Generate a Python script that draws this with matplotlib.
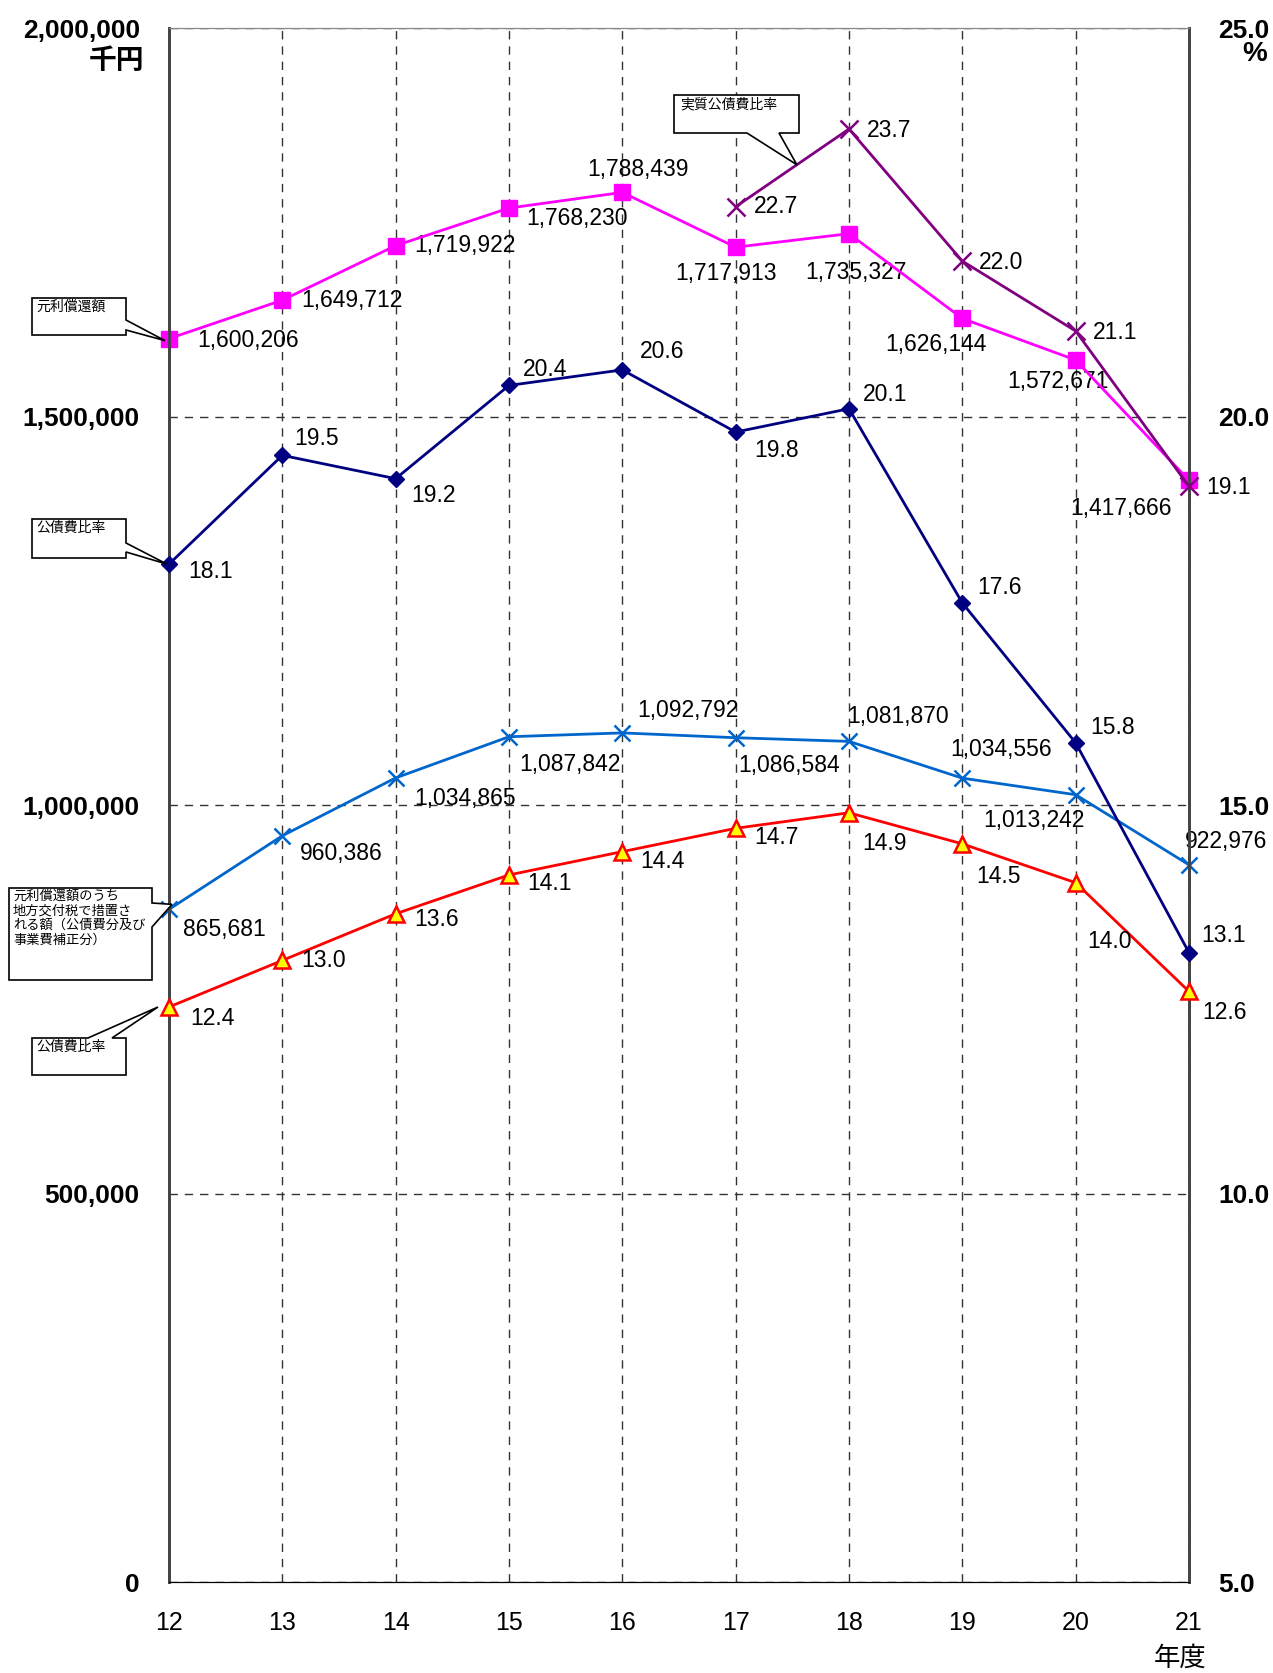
import matplotlib
matplotlib.use("Agg")
import matplotlib.pyplot as plt
from matplotlib.patches import Polygon
from matplotlib.ticker import FuncFormatter

plt.rcParams['font.family'] = ['Liberation Sans', 'Noto Sans CJK JP']

# data
years = [12, 13, 14, 15, 16, 17, 18, 19, 20, 21]
repay = [1600206, 1649712, 1719922, 1768230, 1788439, 1717913, 1735327, 1626144, 1572671, 1417666]
repay_covered = [865681, 960386, 1034865, 1087842, 1092792, 1086584, 1081870, 1034556, 1013242, 922976]
ratio = [18.1, 19.5, 19.2, 20.4, 20.6, 19.8, 20.1, 17.6, 15.8, 13.1]
ratio2 = [12.4, 13.0, 13.6, 14.1, 14.4, 14.7, 14.9, 14.5, 14.0, 12.6]
real_years = [17, 18, 19, 20, 21]
real_ratio = [22.7, 23.7, 22.0, 21.1, 19.1]

# label offsets in pixels (dx, dy, ha)
off_repay = [(28, -2, 'left'), (19, 0, 'left'), (19, 0, 'left'), (17, -10, 'left'), (16, 23, 'center'),
             (-10, -26, 'center'), (7, -39, 'center'), (-26, -26, 'center'), (-18, -21, 'center'), (-68, -28, 'center')]
off_ratio = [(19, -7, 'left'), (12, 17, 'left'), (16, -17, 'left'), (14, 16, 'left'), (18, 18, 'left'),
             (19, -18, 'left'), (14, 14, 'left'), (15, 15, 'left'), (15, 15, 'left'), (12, 17, 'left')]
off_cov = [(14, -20, 'left'), (18, -18, 'left'), (19, -21, 'left'), (10, -28, 'left'), (66, 22, 'center'),
           (53, -28, 'center'), (49, 25, 'center'), (39, 29, 'center'), (-42, -26, 'center'), (37, 23, 'center')]
off_ratio2 = [(21, -11, 'left'), (19, 0, 'left'), (19, -6, 'left'), (18, -9, 'left'), (18, -10, 'left'),
              (19, -9, 'left'), (13, -31, 'left'), (14, -33, 'left'), (12, -59, 'left'), (13, -21, 'left')]
off_real = [(18, 0, 'left'), (18, -1, 'left'), (17, -1, 'left'), (17, -1, 'left'), (17, -1, 'left')]

W, H = 1273, 1673
fig = plt.figure(figsize=(W / 100, H / 100), dpi=100)
ax = fig.add_axes([169 / W, (H - 1582) / H, (1189 - 169) / W, (1582 - 28) / H])
ax2 = ax.twinx()

ax.set_xlim(12, 21)
ax.set_ylim(0, 2000000)
ax2.set_ylim(5, 25)
ax.set_xticks(years)
ax.set_yticks([0, 500000, 1000000, 1500000, 2000000])
ax2.set_yticks([5, 10, 15, 20, 25])
ax.yaxis.set_major_formatter(FuncFormatter(lambda v, p: f"{int(v):,}"))
ax2.yaxis.set_major_formatter(FuncFormatter(lambda v, p: f"{v:.1f}"))
ax.tick_params(axis='y', length=0, pad=21, labelsize=19)
ax2.tick_params(axis='y', length=0, pad=21, labelsize=19)
ax.tick_params(axis='x', length=0, pad=21, labelsize=18)
for lab in ax.get_yticklabels() + ax2.get_yticklabels():
    lab.set_fontweight('bold')

ax.grid(True, linestyle=(0, (6, 5)), color='#333333', linewidth=1)
ax.set_axisbelow(True)
for sp in ['left', 'right']:
    ax.spines[sp].set_color('#444444')
    ax.spines[sp].set_linewidth(2)
    ax2.spines[sp].set_color('#444444')
    ax2.spines[sp].set_linewidth(2)
ax.spines['top'].set_color('#888888')
ax2.spines['top'].set_color('#888888')
ax.spines['bottom'].set_color('black')

lbl = dict(textcoords='offset pixels', va='center', fontsize=16.5)

ax.plot(years, repay_covered, color='#0066CC', lw=2, marker='x', ms=11, mew=1.8, clip_on=False, zorder=3)
for x, y, (dx, dy, ha) in zip(years, repay_covered, off_cov):
    ax.annotate(f"{y:,}", (x, y), xytext=(dx, dy), ha=ha, **lbl)

ax.plot(years, repay, color='#FF00FF', lw=2, marker='s', ms=11, clip_on=False, zorder=4)
for x, y, (dx, dy, ha) in zip(years, repay, off_repay):
    ax.annotate(f"{y:,}", (x, y), xytext=(dx, dy), ha=ha, **lbl)

ax2.plot(years, ratio2, color='#FF0000', lw=2, marker='^', ms=11, mfc='#FFFF00', mec='#FF0000', mew=1.8,
         clip_on=False, zorder=3)
for x, y, (dx, dy, ha) in zip(years, ratio2, off_ratio2):
    ax2.annotate(f"{y:.1f}", (x, y), xytext=(dx, dy), ha=ha, **lbl)

ax2.plot(years, ratio, color='#000080', lw=2, marker='D', ms=8, clip_on=False, zorder=4)
for x, y, (dx, dy, ha) in zip(years, ratio, off_ratio):
    ax2.annotate(f"{y:.1f}", (x, y), xytext=(dx, dy), ha=ha, **lbl)

ax2.plot(real_years, real_ratio, color='#800080', lw=2, marker='x', ms=13, mew=1.8, clip_on=False, zorder=5)
for x, y, (dx, dy, ha) in zip(real_years, real_ratio, off_real):
    ax2.annotate(f"{y:.1f}", (x, y), xytext=(dx, dy), ha=ha, **lbl)

# axis captions
fig.text(144 / W, 1 - 62 / H, "千円", ha='right', va='center', fontsize=20, fontweight='bold')
fig.text(1267 / W, 1 - 54 / H, "%", ha='right', va='center', fontsize=20, fontweight='bold')
fig.text(1180 / W, 1 - 1658 / H, "年度", ha='center', va='center', fontsize=19)


# callouts (pixel coords from top-left)
def to_px(axis, x, y):
    dx, dy = axis.transData.transform((x, y))
    return dx, H - dy


def callout(box, base, tip, side, text, tx, ty, fs=10):
    x0, y0, x1, y1 = box
    if side == 'right':
        pts = [(x0, y0), (x1, y0), (x1, base[0]), tip, (x1, base[1]), (x1, y1), (x0, y1)]
    elif side == 'top':
        pts = [(x0, y0), (base[0], y0), tip, (base[1], y0), (x1, y0), (x1, y1), (x0, y1)]
    else:  # bottom
        pts = [(x0, y0), (x1, y0), (x1, y1), (base[1], y1), tip, (base[0], y1), (x0, y1)]
    pts = [(px / W, 1 - py / H) for px, py in pts]
    fig.add_artist(Polygon(pts, closed=True, facecolor='white', edgecolor='black', lw=1.2,
                           transform=fig.transFigure, zorder=10))
    fig.text(tx / W, 1 - ty / H, text, ha='left', va='top', fontsize=fs, linespacing=1.25, zorder=11)


px_, py_ = to_px(ax, years[0], repay[0])
callout((32, 298, 126, 335), (320, 330), (px_ - 4, py_ + 2), 'right', "元利償還額", 36, 300)
px_, py_ = to_px(ax2, years[0], ratio[0])
callout((32, 519, 126, 558), (543, 552), (px_ - 2, py_), 'right', "公債費比率", 36, 521)
px_, py_ = to_px(ax, years[0], repay_covered[0])
callout((9, 888, 152, 980), (903, 927), (px_ + 3, py_ - 5), 'right',
        "元利償還額のうち\n地方交付税で措置さ\nれる額（公債費分及び\n事業費補正分）", 13, 890, fs=9.5)
px_, py_ = to_px(ax2, years[0], ratio2[0])
callout((32, 1038, 126, 1075), (88, 112), (px_ - 11, py_), 'top', "公債費比率", 36, 1040)
ax_, ay_ = to_px(ax2, real_years[0], real_ratio[0])
bx_, by_ = to_px(ax2, real_years[1], real_ratio[1])
t = 0.54
callout((674, 95, 799, 133), (747, 779), (ax_ + t * (bx_ - ax_), ay_ + t * (by_ - ay_)), 'bottom',
        "実質公債費比率", 680, 97)

fig.savefig("out.png", dpi=100)
